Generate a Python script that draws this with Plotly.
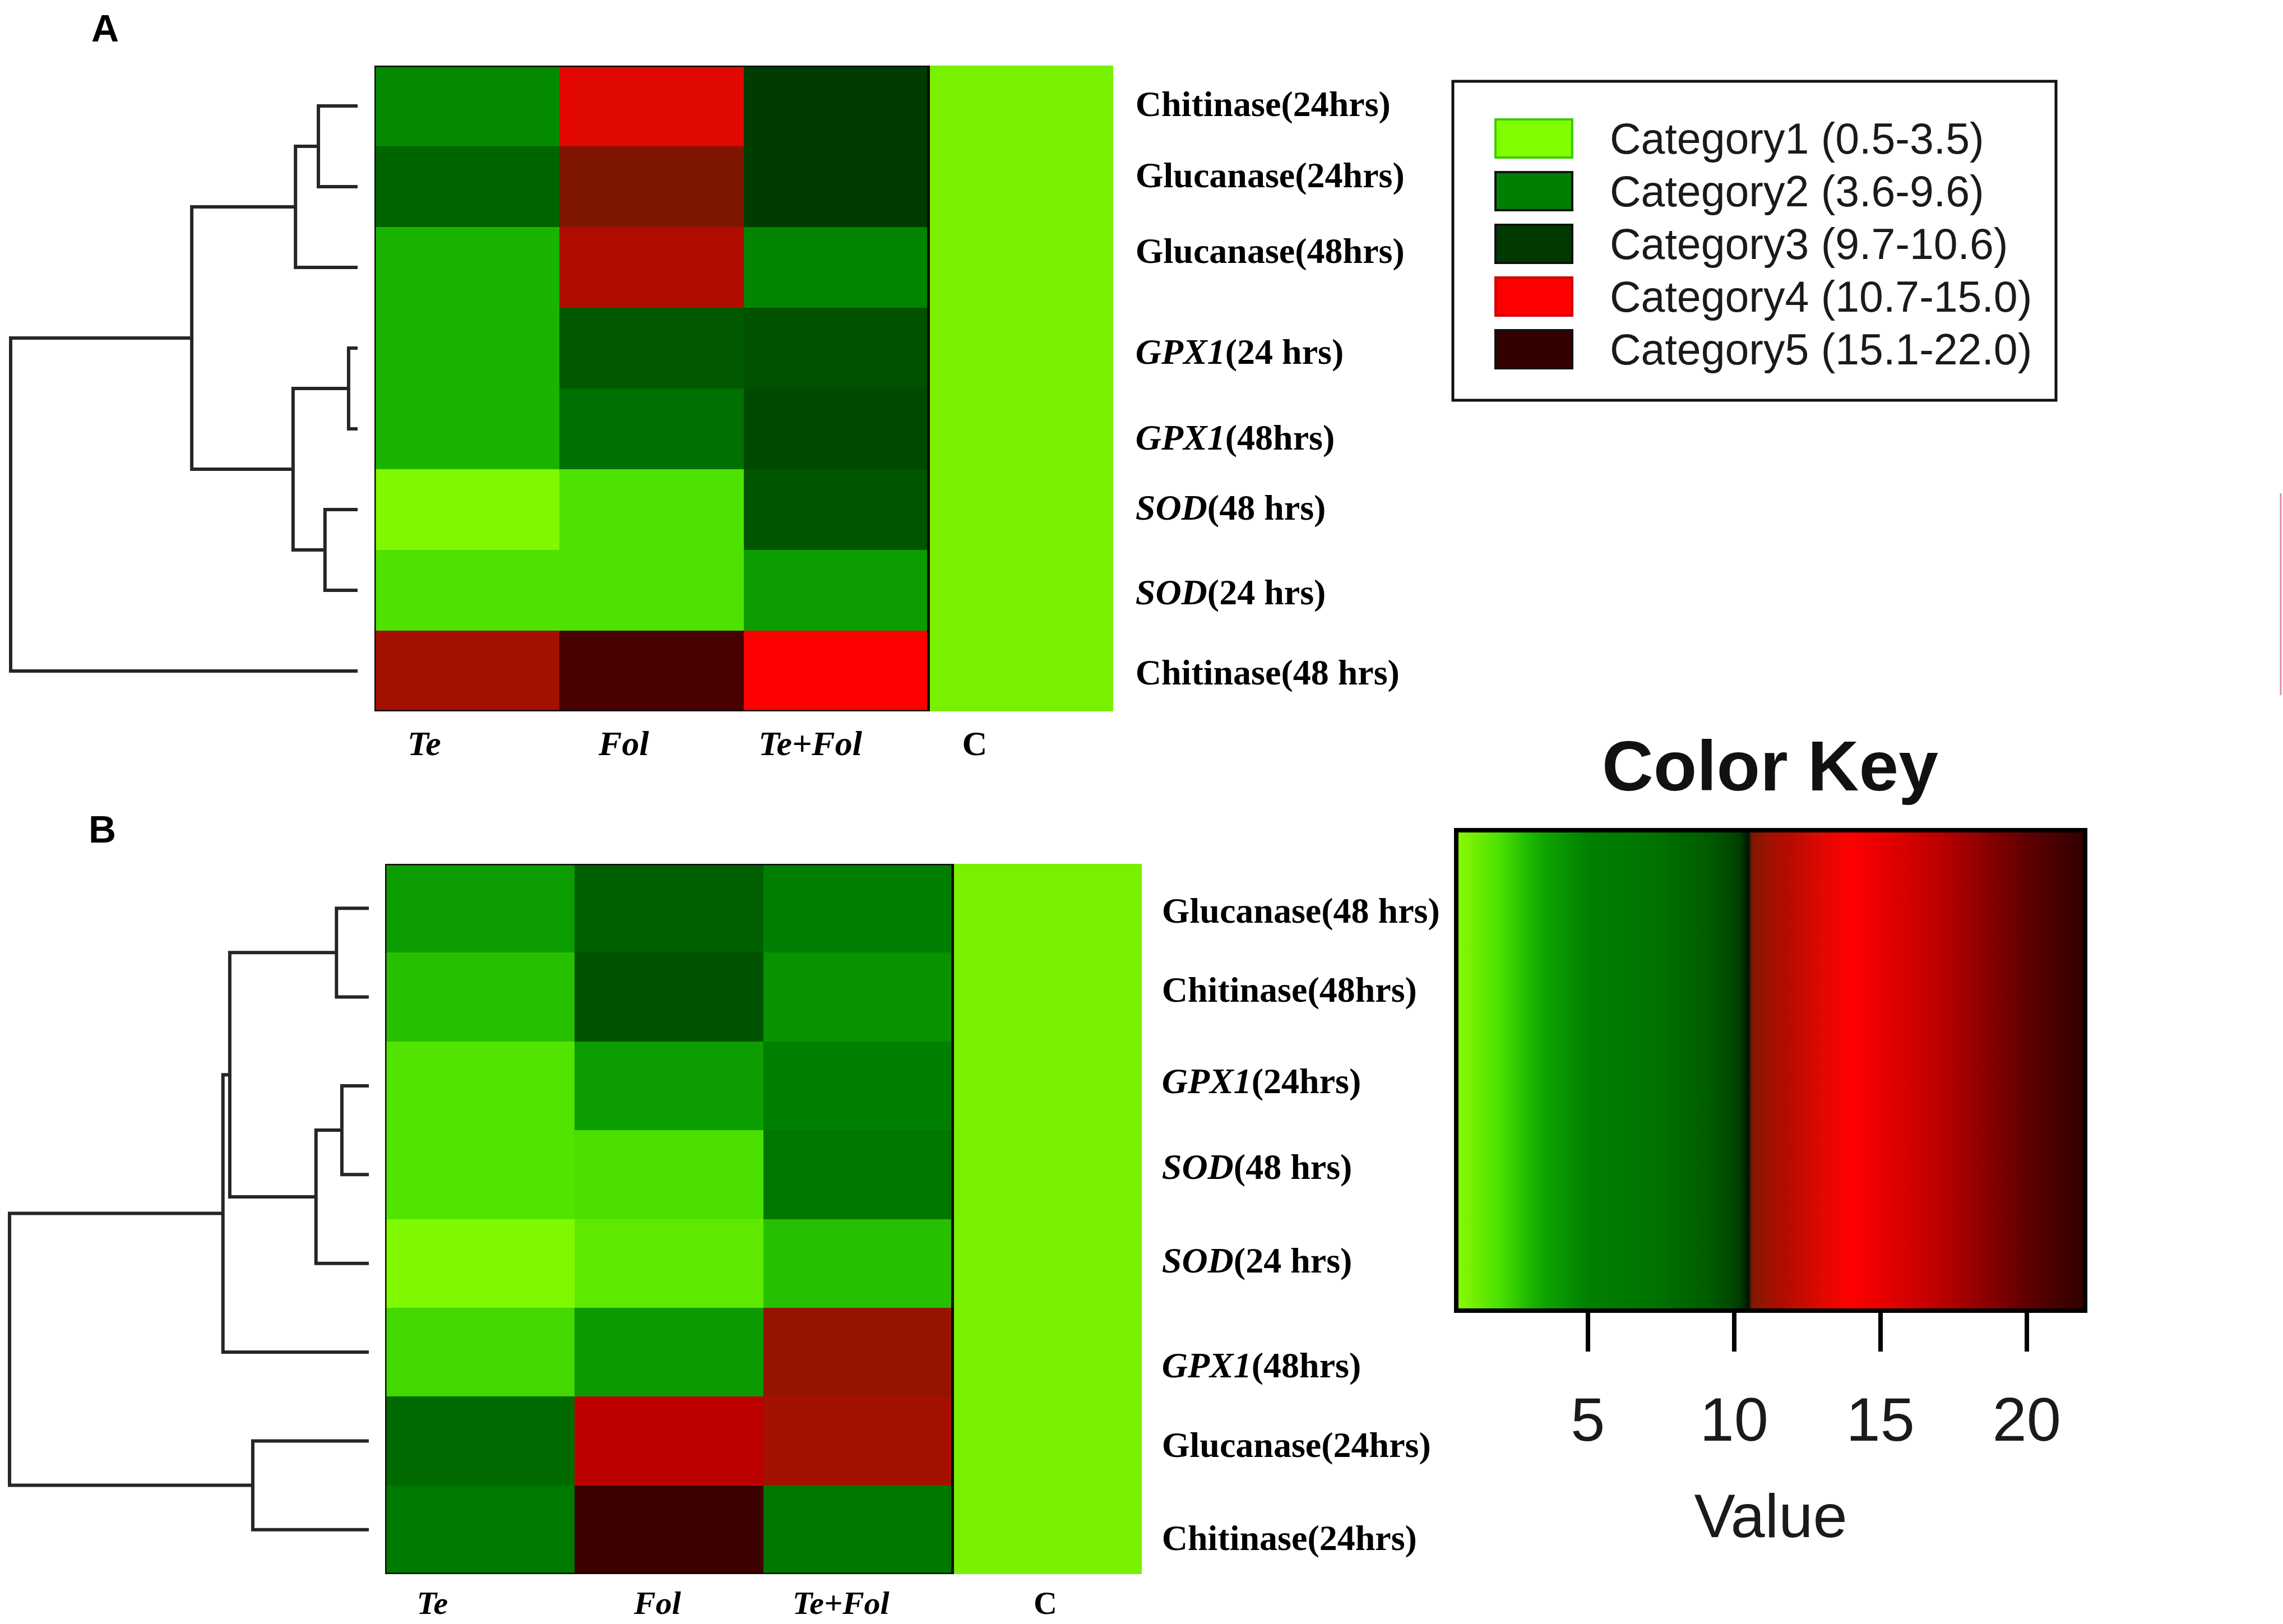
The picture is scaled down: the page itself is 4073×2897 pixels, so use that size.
import plotly.graph_objects as go

W, H = 4073, 2897

# ---- data -------------------------------------------------------------
columns = ['Te', 'Fol', 'Te+Fol', 'C']

genes_a = ['Chitinase(24hrs)', 'Glucanase(24hrs)', 'Glucanase(48hrs)', 'GPX1(24 hrs)',
           'GPX1(48hrs)', 'SOD(48 hrs)', 'SOD(24 hrs)', 'Chitinase(48 hrs)']
te_a = [4.6, 8.4, 3.1, 3.1, 3.1, 0.7, 1.9, 11.3]
fol_a = [13.0, 10.65, 11.7, 9.3, 7.5, 1.9, 1.9, 21.0]
tefol_a = [10.2, 10.2, 4.8, 9.6, 9.85, 9.4, 3.8, 14.0]
c_a = [1.0, 1.0, 1.0, 1.0, 1.0, 1.0, 1.0, 1.0]

genes_b = ['Glucanase(48 hrs)', 'Chitinase(48hrs)', 'GPX1(24hrs)', 'SOD(48 hrs)',
           'SOD(24 hrs)', 'GPX1(48hrs)', 'Glucanase(24hrs)', 'Chitinase(24hrs)']
te_b = [3.8, 2.8, 1.8, 1.8, 0.7, 2.2, 8.0, 6.2]
fol_b = [8.8, 9.6, 3.8, 2.0, 1.5, 3.9, 17.0, 21.5]
tefol_b = [5.0, 4.2, 5.0, 6.5, 2.8, 11.0, 11.3, 6.5]
c_b = [1.0, 1.0, 1.0, 1.0, 1.0, 1.0, 1.0, 1.0]

# row clustering: (left, right, height); leaves are rows 0-7, merges numbered from 8
link_a = [(0, 1, 0.113), (8, 2, 0.179), (3, 4, 0.026), (5, 6, 0.094),
          (10, 11, 0.186), (9, 12, 0.478), (13, 7, 1.0)]
link_b = [(0, 1, 0.090), (2, 3, 0.075), (9, 4, 0.147), (8, 10, 0.387),
          (11, 5, 0.406), (6, 7, 0.323), (12, 13, 1.0)]

# colour key (value -> colour)
key_values = [0.5, 0.7, 1.0, 1.8, 2.0, 3.0, 3.5, 4.0, 5.0, 6.5, 7.5, 8.5, 9.2, 9.8,
              10.2, 10.5, 10.6, 11.0, 11.3, 11.7, 13.0, 14.0, 17.0, 20.0, 22.0]
key_colors = ['#8cff00', '#80f800', '#78f000', '#50e400', '#4ce000', '#1cb800', '#10a400',
              '#0a9800', '#008000', '#007800', '#007000', '#006400', '#005a00', '#004c00',
              '#003c00', '#001400', '#7c1800', '#941400', '#a41000', '#b00c00', '#e00800',
              '#ff0000', '#bc0000', '#600000', '#300000']
key_ticks = [5, 10, 15, 20]

categories = ['Category1 (0.5-3.5)', 'Category2 (3.6-9.6)', 'Category3 (9.7-10.6)',
              'Category4 (10.7-15.0)', 'Category5 (15.1-22.0)']
category_colors = ['#80ff00', '#008000', '#013a01', '#ff0000', '#330000']
category_edges = ['#3ccc00', '#111111', '#111111', '#d00000', '#111111']

# where the hand-placed labels sit relative to their row / column (in cell units)
row_shift_a = [-0.03, -0.15, -0.21, 0.04, 0.10, -0.03, 0.02, 0.01]
row_shift_b = [0.02, -0.09, -0.06, -0.09, -0.04, 0.14, 0.04, 0.09]
col_shift_a = [-0.23, -0.15, -0.14, -0.25]
col_shift_b = [-0.25, -0.06, -0.09, -0.01]


def px_x(p):
    return p / W


def px_y(p):
    return 1 - p / H


def fmt_gene(label):
    for g in ('GPX1', 'SOD'):
        if label.startswith(g):
            return '<b><i>%s</i>%s</b>' % (g, label[len(g):])
    return '<b>%s</b>' % label


def fmt_col(label):
    if label == 'C':
        return '<b>C</b>'
    return '<b><i>%s</i></b>' % label


def dendro_xy(links, n):
    pos = {i: (0.0, float(i)) for i in range(n)}
    xs, ys = [], []
    for k, (a, b, h) in enumerate(links):
        ha, ya = pos[a]
        hb, yb = pos[b]
        xs += [ha, h, h, hb, None]
        ys += [ya, ya, yb, yb, None]
        pos[n + k] = (h, (ya + yb) / 2)
    return xs, ys


def axis_key(a):
    return ('xaxis' if a[0] == 'x' else 'yaxis') + a[1:]


lo, hi = key_values[0], key_values[-1]
colorscale = [[(v - lo) / (hi - lo), c] for v, c in zip(key_values, key_colors)]

serif = 'Liberation Serif'
sans = 'Liberation Sans'

fig = go.Figure()
shapes = []
annotations = []

panels = [
    # heatmap box (px), dendrogram leaf/root x (px), data
    dict(hm=(668, 117, 1986, 1269), leaf=638, root=19, genes=genes_a,
         cols=[te_a, fol_a, tefol_a, c_a], links=link_a, ax=('x', 'y', 'x2', 'y2'),
         rshift=row_shift_a, cshift=col_shift_a, rlen=26, clen=3, cfont=62),
    dict(hm=(687, 1541, 2037, 2808), leaf=658, root=17, genes=genes_b,
         cols=[te_b, fol_b, tefol_b, c_b], links=link_b, ax=('x3', 'y3', 'x4', 'y4'),
         rshift=row_shift_b, cshift=col_shift_b, rlen=22, clen=0, cfont=58),
]

layout_axes = {}
for p in panels:
    x0, y0, x1, y1 = p['hm']
    hx, hy, dx, dy = p['ax']
    n = len(p['genes'])
    z = [list(r) for r in zip(*p['cols'])]
    fig.add_trace(go.Heatmap(z=z, x=list(range(len(columns))), y=list(range(n)),
                             coloraxis='coloraxis', xaxis=hx, yaxis=hy,
                             hovertemplate='%{z}<extra></extra>'))
    xs, ys = dendro_xy(p['links'], n)
    fig.add_trace(go.Scatter(x=xs, y=ys, mode='lines', xaxis=dx, yaxis=dy,
                             line=dict(color='#262626', width=6),
                             hoverinfo='skip', showlegend=False))
    # dark frame round the three treatment columns
    shapes.append(dict(type='rect', xref=hx, yref=hy, x0=-0.5, x1=len(columns) - 1.5,
                       y0=-0.5, y1=n - 0.5, line=dict(color='#0c0c0c', width=5),
                       fillcolor='rgba(0,0,0,0)'))

    span = p['leaf'] - p['root']
    r0, r1 = 1.01, -0.02
    d0 = max(p['leaf'] - r0 * span, 0)
    d1 = p['leaf'] - r1 * span
    ydom = [px_y(y1), px_y(y0)]

    layout_axes[axis_key(hx)] = dict(
        domain=[px_x(x0), px_x(x1)], anchor=hy, range=[-0.5, len(columns) - 0.5],
        tickvals=[i + s for i, s in enumerate(p['cshift'])],
        ticktext=[fmt_col(c) for c in columns],
        ticks='outside', ticklen=p['clen'], tickcolor='rgba(0,0,0,0)',
        tickfont=dict(family=serif, size=p['cfont'], color='black'), automargin=False,
        showgrid=False, zeroline=False, showline=False)
    layout_axes[axis_key(hy)] = dict(
        domain=ydom, anchor=hx, range=[n - 0.5, -0.5], side='right',
        tickvals=[i + s for i, s in enumerate(p['rshift'])],
        ticktext=[fmt_gene(g) for g in p['genes']],
        ticks='outside', ticklen=p['rlen'], tickcolor='rgba(0,0,0,0)',
        tickfont=dict(family=serif, size=64, color='black'), automargin=False,
        showgrid=False, zeroline=False, showline=False)
    layout_axes[axis_key(dx)] = dict(domain=[px_x(d0), px_x(d1)], anchor=dy,
                                     range=[(p['leaf'] - d0) / span, r1], visible=False,
                                     automargin=False)
    layout_axes[axis_key(dy)] = dict(domain=ydom, anchor=dx, range=[n - 0.5, -0.5],
                                     visible=False, automargin=False)

# axis carrying the colour key ticks
bar = (2598, 1481, 3720, 2338)
fig.add_trace(go.Scatter(x=[], y=[], xaxis='x5', yaxis='y5', showlegend=False,
                         hoverinfo='skip'))
layout_axes['xaxis5'] = dict(
    domain=[px_x(bar[0]), px_x(bar[2])], anchor='y5', range=[lo, hi],
    tickvals=key_ticks, ticks='outside', ticklen=72, tickwidth=8, tickcolor='black',
    ticklabelstandoff=27, showgrid=False, zeroline=False, showline=False, automargin=False,
    tickfont=dict(family=sans, size=110, color='#1a1a1a'),
    title=dict(text='Value', font=dict(family=sans, size=110, color='#1a1a1a'), standoff=72))
layout_axes['yaxis5'] = dict(domain=[px_y(bar[3]), px_y(bar[1])], anchor='x5',
                             range=[0, 1], visible=False, automargin=False)

# category legend box
shapes.append(dict(type='rect', xref='paper', yref='paper',
                   x0=px_x(2592), x1=px_x(3668), y0=px_y(714), y1=px_y(145),
                   line=dict(color='#111111', width=5), fillcolor='rgba(0,0,0,0)'))
for i, (lab, col, edge) in enumerate(zip(categories, category_colors, category_edges)):
    yc = 247 + i * 94
    shapes.append(dict(type='rect', xref='paper', yref='paper',
                       x0=px_x(2668), x1=px_x(2805), y0=px_y(yc + 34), y1=px_y(yc - 34),
                       line=dict(color=edge, width=4), fillcolor=col))
    annotations.append(dict(text=lab, xref='paper', yref='paper', x=px_x(2870), y=px_y(yc),
                            xanchor='left', yanchor='middle', showarrow=False,
                            font=dict(family=sans, size=77, color='#1a1a1a')))

annotations.append(dict(text='<b>Color Key</b>', xref='paper', yref='paper',
                        x=px_x(3158), y=px_y(1366), xanchor='center', yanchor='middle',
                        showarrow=False, font=dict(family=sans, size=127, color='#111111')))
annotations.append(dict(text='<b>A</b>', xref='paper', yref='paper', x=px_x(187), y=px_y(50),
                        xanchor='center', yanchor='middle', showarrow=False,
                        font=dict(family=sans, size=68, color='black')))
annotations.append(dict(text='<b>B</b>', xref='paper', yref='paper', x=px_x(182), y=px_y(1479),
                        xanchor='center', yanchor='middle', showarrow=False,
                        font=dict(family=sans, size=68, color='black')))

# faint edge line at the right border of the original figure
shapes.append(dict(type='line', xref='paper', yref='paper', x0=px_x(4069), x1=px_x(4069),
                   y0=px_y(880), y1=px_y(1240), line=dict(color='#e58a98', width=3)))

fig.update_layout(
    width=W, height=H,
    margin=dict(l=0, r=0, t=0, b=0, autoexpand=False),
    paper_bgcolor='white', plot_bgcolor='rgba(0,0,0,0)',
    showlegend=False,
    coloraxis=dict(
        colorscale=colorscale, cmin=lo, cmax=hi,
        colorbar=dict(orientation='h', x=px_x((bar[0] + bar[2]) / 2), xanchor='center',
                      y=px_y(bar[1]), yanchor='top', lenmode='pixels', len=bar[2] - bar[0],
                      thicknessmode='pixels', thickness=bar[3] - bar[1], xpad=0, ypad=0,
                      outlinewidth=8, outlinecolor='black', ticks='', showticklabels=False)),
    shapes=shapes,
    annotations=annotations,
    **layout_axes
)

# drop the default page margin and scrollbars so the figure fills the window exactly
page_fix = ("document.documentElement.style.overflow='hidden';"
            "document.body.style.overflow='hidden';"
            "document.body.style.margin='0';")
fig.write_html('out.html', config={'displayModeBar': False}, post_script=page_fix)
